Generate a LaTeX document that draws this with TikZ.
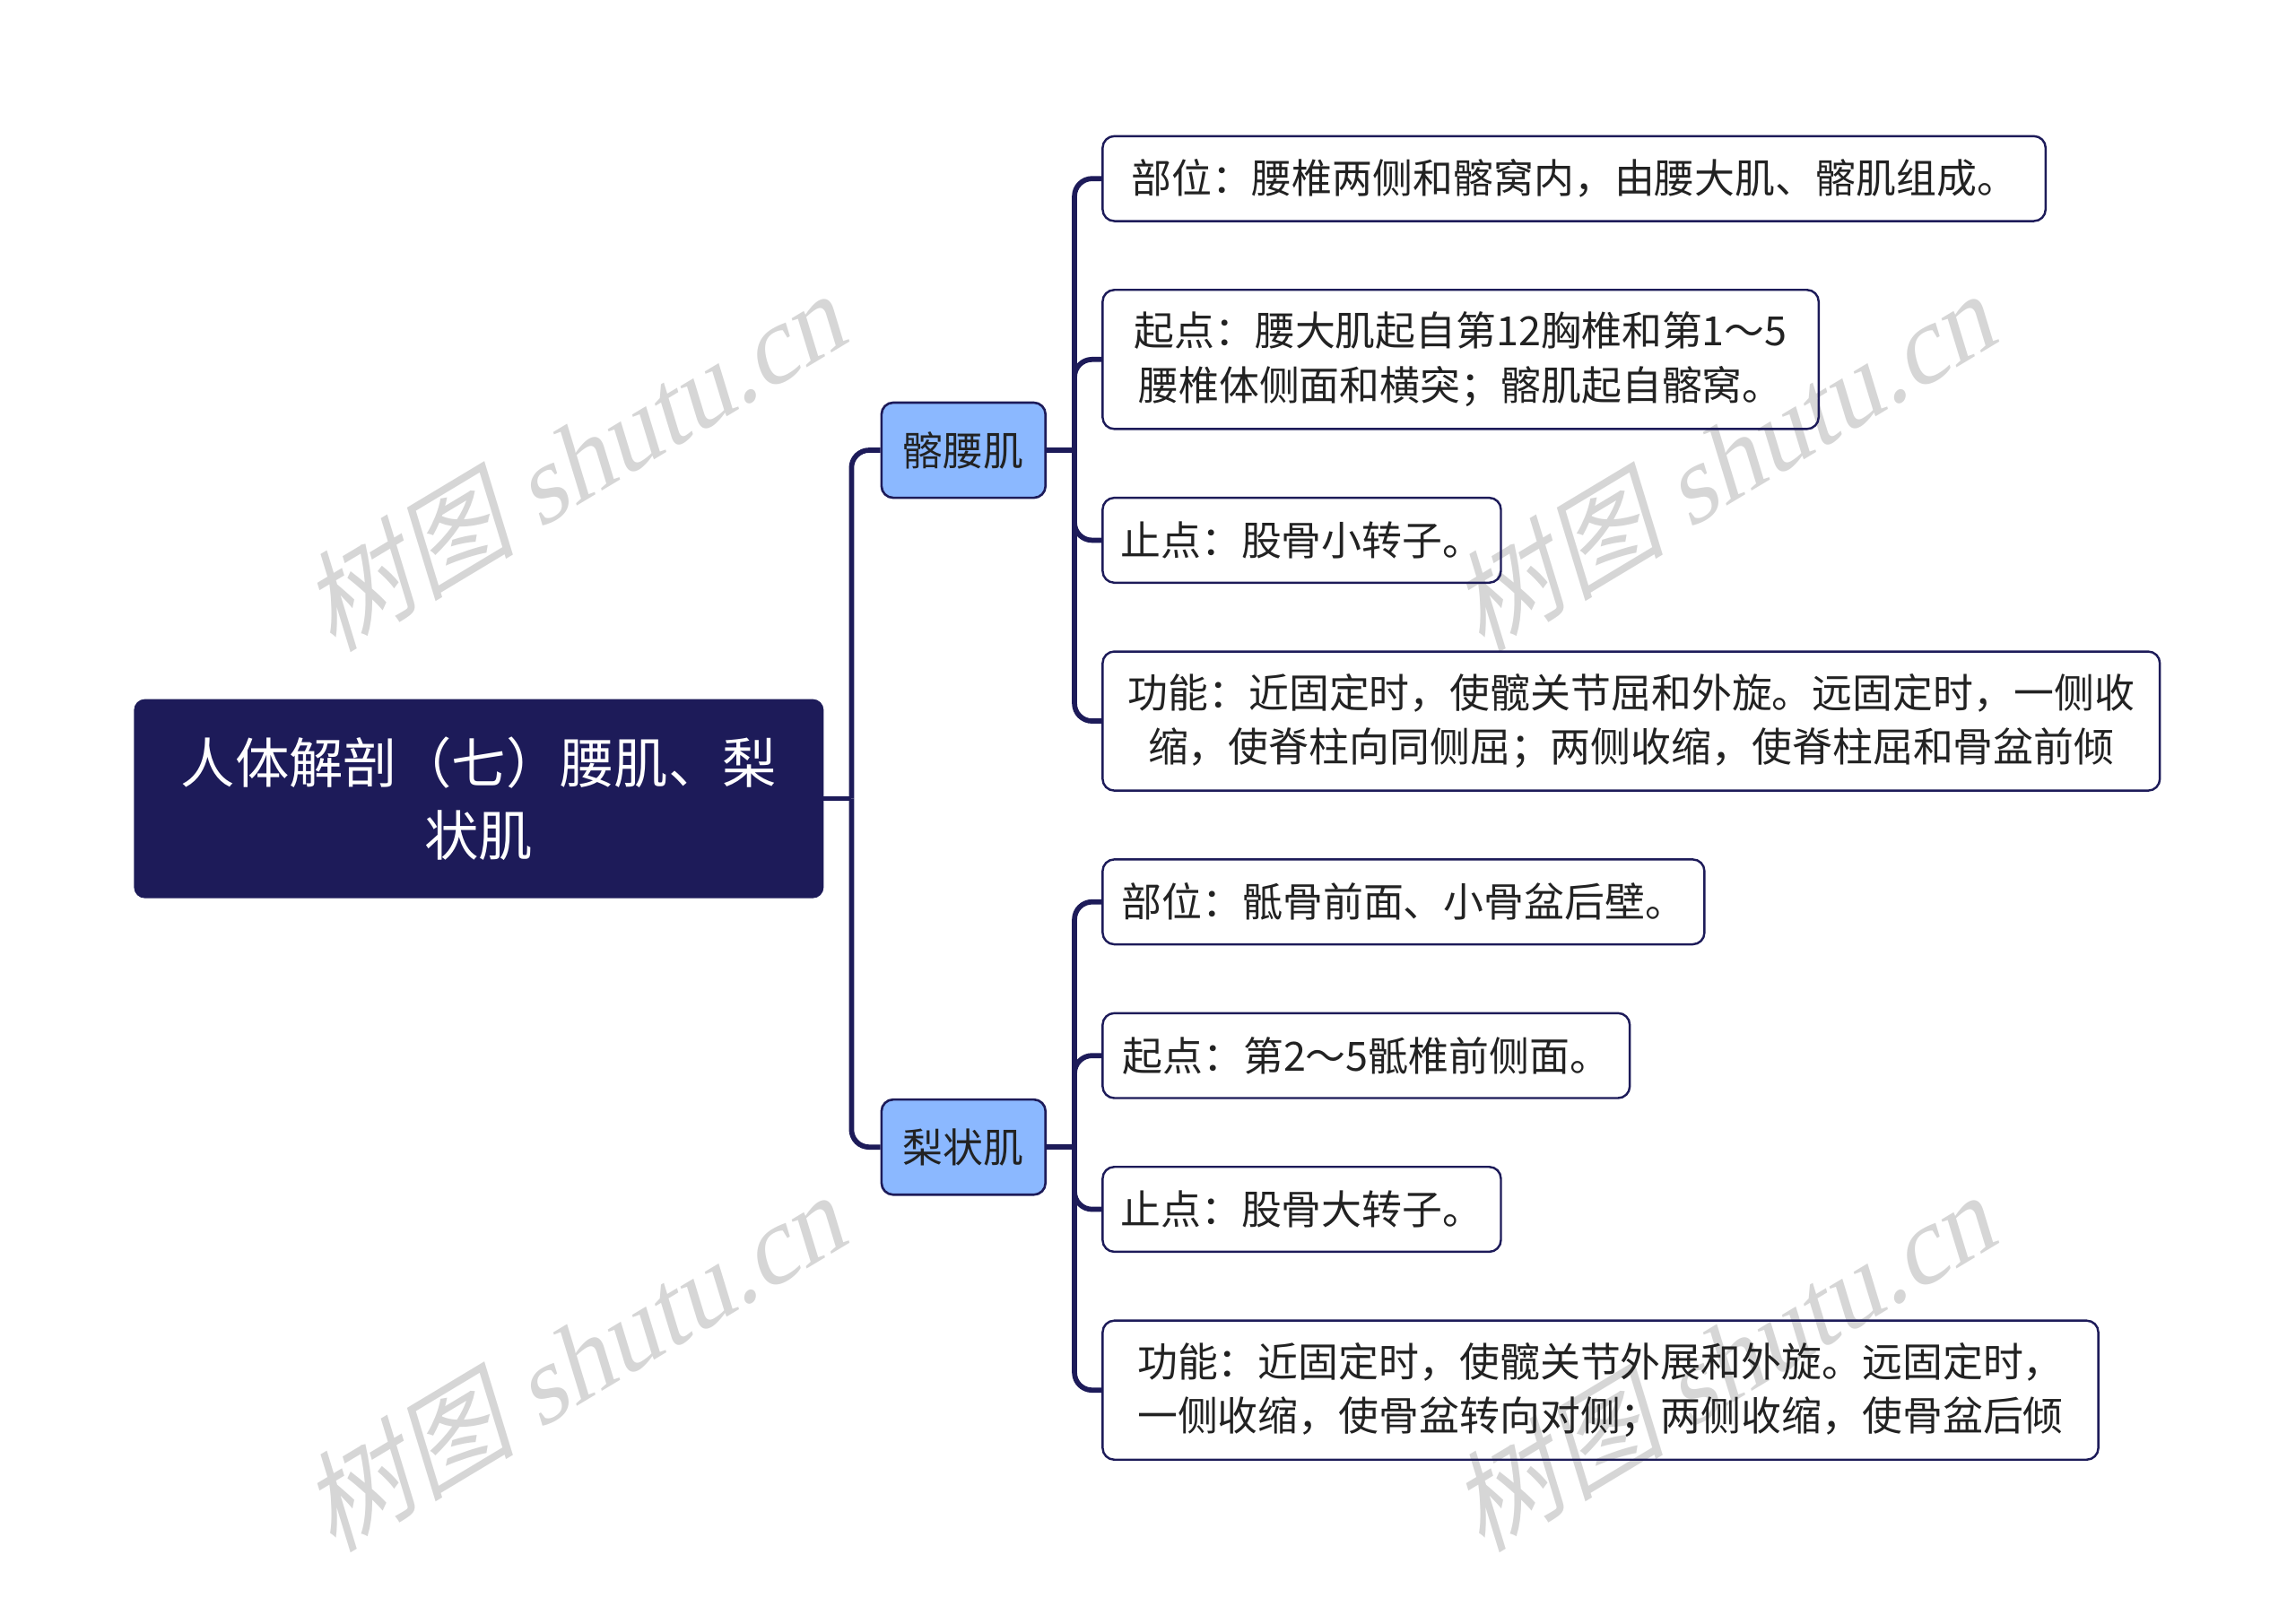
\documentclass[tikz,border=0pt]{standalone}
\usepackage{fontspec}
\setmainfont{Noto Sans CJK SC}
\newfontfamily\wmlatin{Liberation Serif}
\newfontfamily\wmcjk{Noto Sans CJK SC}
\definecolor{navy}{RGB}{29,27,89}
\definecolor{topicblue}{RGB}{139,184,255}
\definecolor{txt}{RGB}{34,34,34}
\definecolor{wmgray}{RGB}{214,214,214}
\tikzset{
  rootbox/.style={draw=navy, fill=navy, rounded corners=7pt, line width=1pt, text=white,
    font=\fontsize{37}{50}\selectfont, align=center, inner sep=0pt},
  topicbox/.style={draw=navy, fill=topicblue, rounded corners=8pt, line width=1.6pt, text=txt,
    font=\fontsize{27.5}{37}\selectfont, align=center, inner sep=0pt,
    minimum width=112pt, minimum height=65pt},
  leafbox/.style={draw=navy, rounded corners=8pt, line width=1.5pt, text=txt,
    font=\fontsize{27.5}{37}\selectfont, align=center, inner sep=0pt},
  link/.style={draw=navy, line width=3.5pt, rounded corners=12pt},
  watermark/.style={text=wmgray, rotate=31, xslant=0.25, inner sep=0pt,
    font=\fontsize{74}{74}\selectfont}
}
\begin{document}
\begin{tikzpicture}[x=1pt, y=-1pt]
\useasboundingbox (0,0) rectangle (1568,1091);
% watermarks
\node[watermark] (w1) at (396,312) {{\wmcjk 树图} {\wmlatin shutu.cn}};
\node[watermark] (w2) at (1181,312) {{\wmcjk 树图} {\wmlatin shutu.cn}};
\node[watermark] (w3) at (396,927) {{\wmcjk 树图} {\wmlatin shutu.cn}};
\node[watermark] (w4) at (1181,927) {{\wmcjk 树图} {\wmlatin shutu.cn}};
% root
\node[rootbox, minimum width=470pt, minimum height=135pt] (root) at (327,545.5)
  {人体解剖（七）腰肌、梨\\状肌};
% topics
\node[topicbox] (t1) at (658,307.5) {髂腰肌};
\node[topicbox] (t2) at (658,783.5) {梨状肌};
% leaves of t1
\node[leafbox, minimum width=644pt, minimum height=58pt] (a1) at (1075,122)
  {部位：腰椎两侧和髂窝内，由腰大肌、髂肌组成。};
\node[leafbox, minimum width=489pt, minimum height=95pt] (a2) at (997.5,245.5)
  {起点：腰大肌起自第12胸椎和第1～5\\腰椎体侧面和横突；髂肌起自髂窝。};
\node[leafbox, minimum width=272pt, minimum height=58pt] (a3) at (889,369)
  {止点：股骨小转子。};
\node[leafbox, minimum width=722pt, minimum height=95pt] (a4) at (1114,492.5)
  {功能：近固定时，使髋关节屈和外旋。远固定时，一侧收\\缩，使脊柱向同侧屈；两侧收缩，使脊柱屈和骨盆前倾};
% leaves of t2
\node[leafbox, minimum width=411pt, minimum height=58pt] (b1) at (958.5,616)
  {部位：骶骨前面、小骨盆后壁。};
\node[leafbox, minimum width=360pt, minimum height=58pt] (b2) at (933,721)
  {起点：第2～5骶椎前侧面。};
\node[leafbox, minimum width=272pt, minimum height=58pt] (b3) at (889,826)
  {止点：股骨大转子。};
\node[leafbox, minimum width=680pt, minimum height=95pt] (b4) at (1093,949.5)
  {功能：近固定时，使髋关节外展和外旋。远固定时，\\一侧收缩，使骨盆转向对侧；两侧收缩，使骨盆后倾};
% junctions
\coordinate (rj) at ([xshift=19pt]root.east);
\coordinate (j1) at ([xshift=19pt]t1.east);
\coordinate (j2) at ([xshift=19pt]t2.east);
% connectors
\draw[link] (root.east) -- (rj);
\draw[link] (rj) |- (t1.west);
\draw[link] (rj) |- (t2.west);
\draw[link] (t1.east) -- (j1);
\foreach \c in {a1,a2,a3,a4} \draw[link] (j1) |- (\c.west);
\draw[link] (t2.east) -- (j2);
\foreach \c in {b1,b2,b3,b4} \draw[link] (j2) |- (\c.west);
\end{tikzpicture}
\end{document}
